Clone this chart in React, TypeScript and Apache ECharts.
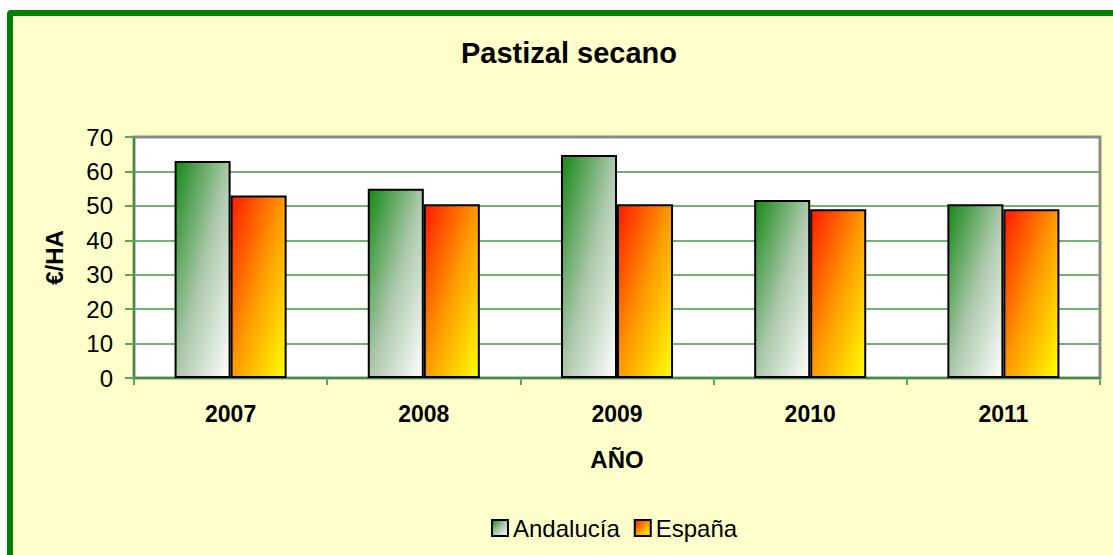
import React, { useEffect, useRef } from "react";
import * as echarts from "echarts";

const categories = ["2007", "2008", "2009", "2010", "2011"];
const andalucia = [63, 55, 64.8, 51.7, 50.5];
const espana = [53, 50.5, 50.5, 49, 49];
const seriesNames = ["Andalucía", "España"];
const yTicks = { min: 0, max: 70, interval: 10 };

const FONT = "'Liberation Sans', Arial, sans-serif";

export default function App() {
  const ref = useRef<HTMLDivElement>(null);
  useEffect(() => {
    if (!ref.current) return;
    const chart = echarts.init(ref.current, null, { renderer: "svg" });
    const greenGrad = new echarts.graphic.LinearGradient(0, 0, 1, 1, [
      { offset: 0, color: "#168816" },
      { offset: 0.5, color: "#abc8ab" },
      { offset: 1, color: "#ffffff" },
    ]);
    const orangeGrad = new echarts.graphic.LinearGradient(0, 0, 1, 1, [
      { offset: 0, color: "#ff1a00" },
      { offset: 0.5, color: "#ff9a00" },
      { offset: 1, color: "#ffff00" },
    ]);
    const gridColors = ["#74b274", "#74b274", "#74b274", "#74b274", "#74b274", "#74b274", "#74b274", "#8a8a8a"];
    chart.setOption({
      animation: false,
      backgroundColor: "transparent",
      textStyle: { fontFamily: FONT },
      title: {
        text: "Pastizal secano",
        left: 456,
        top: 33,
        textStyle: { fontFamily: FONT, fontSize: 29, fontWeight: "bold", color: "#000" },
      },
      legend: {
        left: 486,
        top: 511,
        itemWidth: 16,
        itemHeight: 16,
        itemGap: 14,
        icon: "rect",
        data: seriesNames,
        textStyle: { fontFamily: FONT, fontSize: 24, color: "#000" },
      },
      grid: {
        left: 134,
        right: 13,
        top: 137,
        bottom: 177,
        show: true,
        backgroundColor: "#ffffff",
        borderColor: "#8a8a8a",
        borderWidth: 3,
      },
      xAxis: {
        type: "category",
        data: categories,
        name: "AÑO",
        nameLocation: "middle",
        nameGap: 69,
        nameTextStyle: { fontFamily: FONT, fontSize: 24, fontWeight: "bold", color: "#000" },
        axisLine: { lineStyle: { color: "#3f8f3f", width: 2 } },
        axisTick: { show: true, length: 7, inside: false, lineStyle: { color: "#5aa85a", width: 2 } },
        axisLabel: { margin: 24, fontFamily: FONT, fontSize: 23, fontWeight: "bold", color: "#000" },
      },
      yAxis: {
        type: "value",
        min: yTicks.min,
        max: yTicks.max,
        interval: yTicks.interval,
        name: "€/HA",
        nameLocation: "middle",
        nameGap: 68,
        nameTextStyle: { fontFamily: FONT, fontSize: 24, fontWeight: "bold", color: "#000" },
        axisLine: { show: true, lineStyle: { color: "#3f8f3f", width: 2 } },
        axisTick: { show: true, length: 9, lineStyle: { color: "#5aa85a", width: 2 } },
        axisLabel: { margin: 21, fontFamily: FONT, fontSize: 24, color: "#000" },
        splitLine: { show: true, lineStyle: { color: gridColors, width: 2 } },
      },
      series: [
        {
          name: seriesNames[0],
          type: "bar",
          data: andalucia,
          barGap: "0%",
          barCategoryGap: "42%",
          itemStyle: { color: greenGrad, borderColor: "#000", borderWidth: 2 },
        },
        {
          name: seriesNames[1],
          type: "bar",
          data: espana,
          itemStyle: { color: orangeGrad, borderColor: "#000", borderWidth: 2 },
        },
      ],
    });
    return () => chart.dispose();
  }, []);
  return (
    <div style={{ position: "absolute", left: 0, top: 0, width: 1113, height: 555, overflow: "hidden", background: "#ffffff" }}>
      <div
        style={{
          position: "absolute",
          left: 7,
          top: 10,
          width: 1200,
          height: 600,
          border: "6px solid #008000",
          borderRadius: 4,
          background: "#FFFFCC",
        }}
      />
      <div ref={ref} style={{ position: "absolute", left: 0, top: 0, width: 1113, height: 555 }} />
    </div>
  );
}
